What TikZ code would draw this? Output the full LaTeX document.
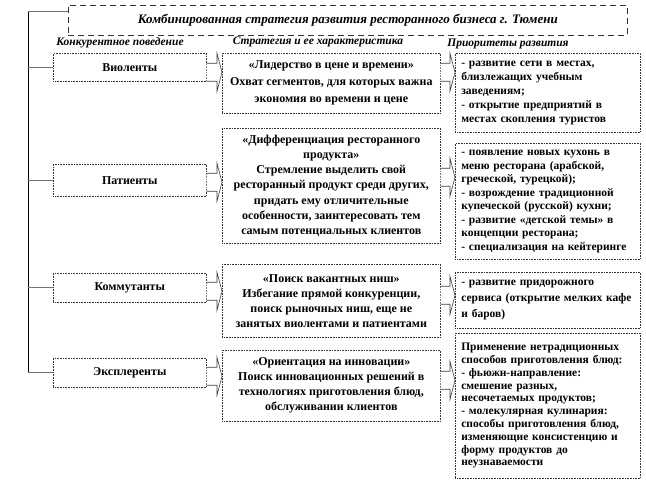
\documentclass[tikz,border=0pt]{standalone}
\usepackage{fontspec}
\setmainfont{Liberation Serif}
\usetikzlibrary{calc}
\newcommand\blockarrow[3]{%
  \draw[barrow] ($(#1.east)+(0,#3-9)$) -- ($(#2.west |- #1.east)+(-5,#3-9)$)
    -- ($(#2.west |- #1.east)+(-5,#3-19)$) -- ($(#2.west |- #1.east)+(0,#3)$)
    -- ($(#2.west |- #1.east)+(-5,#3+19)$) -- ($(#2.west |- #1.east)+(-5,#3+9)$)
    -- ($(#1.east)+(0,#3+9)$);}
\begin{document}
\begin{tikzpicture}[x=1pt,y=-1pt,
  dotbox/.style={draw=black!80, densely dotted, line width=0.6pt, fill=white,
    anchor=north west, inner sep=0pt},
  lbox/.style={dotbox, minimum width=153pt, font=\bfseries\fontsize{12}{14}\selectfont},
  mbox/.style={dotbox, minimum width=218pt, align=center},
  rbox/.style={dotbox, text width=173pt, inner xsep=6pt, align=left},
  hdr/.style={font=\bfseries\itshape\fontsize{11.5}{13}\selectfont},
  barrow/.style={draw=black!75, line width=0.6pt, fill=white},
  trunk/.style={draw=black, line width=0.8pt},
  branch/.style={draw=black!55, line width=1pt}
]
\useasboundingbox (0,0) rectangle (646,486);
\fill[white] (0,0) rectangle (646,486);

% title
\node[draw=black!80, dash pattern=on 6pt off 4pt, line width=0.7pt, anchor=north west,
  minimum width=559pt, minimum height=30pt, inner sep=0pt,
  font=\bfseries\itshape\fontsize{13}{15}\selectfont] (T) at (68,5)
  {Комбинированная стратегия развития ресторанного бизнеса г. Тюмени};

% headers
\node[hdr] (H1) at (120,43) {Конкурентное поведение};
\node[hdr] (H2) at (318,42) {Стратегия и ее характеристика};
\node[hdr] (H3) at (508,44) {Приоритеты развития};

% left boxes
\node[lbox, minimum height=28pt] (L1) at (53,53) {Виоленты};
\node[lbox, minimum height=32pt] (L2) at (53,164) {Патиенты};
\node[lbox, minimum height=29pt] (L3) at (53,273) {Коммутанты};
\node[lbox, minimum height=29pt] (L4) at (53,358) {Эксплеренты};

% right boxes
\node[rbox, minimum height=79pt, font=\bfseries\fontsize{11.5}{14}\selectfont] (R1) at (455,53)
  {- развитие сети в местах,\\ близлежащих учебным\\ заведениям;\\ - открытие предприятий в\\ местах скопления туристов};
\node[rbox, minimum height=116pt, font=\bfseries\fontsize{11.5}{13.5}\selectfont] (R2) at (455,143)
  {- появление новых кухонь в\\ меню ресторана (арабской,\\ греческой, турецкой);\\ - возрождение традиционной\\ купеческой (русской) кухни;\\ - развитие «детской темы» в\\ концепции ресторана;\\ - специализация на кейтеринге};
\node[rbox, minimum height=56pt, font=\bfseries\fontsize{11.5}{16}\selectfont] (R3) at (455,272)
  {- развитие придорожного\\ сервиса (открытие мелких кафе\\ и баров)};
\node[rbox, minimum height=145pt, font=\bfseries\fontsize{11.5}{12.8}\selectfont] (R4) at (455,333)
  {Применение нетрадиционных\\ способов приготовления блюд:\\ - фьюжн-направление:\\ смешение разных,\\ несочетаемых продуктов;\\ - молекулярная кулинария:\\ способы приготовления блюд,\\ изменяющие консистенцию и\\ форму продуктов до\\ неузнаваемости};

% middle boxes
\node[mbox, minimum height=60pt, font=\bfseries\fontsize{12}{17}\selectfont] (M1) at (222,53)
  {«Лидерство в цене и времени»\\ Охват сегментов, для которых важна\\ экономия во времени и цене};
\node[mbox, minimum height=115pt, font=\bfseries\fontsize{12}{15.3}\selectfont] (M2) at (222,128)
  {«Дифференциация ресторанного\\ продукта»\\ Стремление выделить свой\\ ресторанный продукт среди других,\\ придать ему отличительные\\ особенности, заинтересовать тем\\ самым потенциальных клиентов};
\node[mbox, minimum height=73pt, font=\bfseries\fontsize{12}{15}\selectfont] (M3) at (222,264)
  {«Поиск вакантных ниш»\\ Избегание прямой конкуренции,\\ поиск рыночных ниш, еще не\\ занятых виолентами и патиентами};
\node[mbox, minimum height=71pt, font=\bfseries\fontsize{12}{15}\selectfont] (M4) at (222,350)
  {«Ориентация на инновации»\\ Поиск инновационных решений в\\ технологиях приготовления блюд,\\ обслуживании клиентов};

% block arrows: left -> middle
\blockarrow{L1}{M1}{5}
\blockarrow{L2}{M2}{2}
\blockarrow{L3}{M3}{3.5}
\blockarrow{L4}{M4}{3.5}
% block arrows: middle -> right
\blockarrow{M1}{R1}{-11}
\blockarrow{M2}{R2}{-8.5}
\blockarrow{M3}{R3}{-5.5}
\blockarrow{M4}{R4}{-5.5}

% trunk line on the left
\coordinate (vx) at (28,12);
\draw[branch] ($(T.north west)+(0,7)$) -- (vx);
\draw[trunk] (vx) -- (vx |- L4.west);
\draw[branch] (L1.west) -- (L1.west -| vx);
\draw[branch] (L2.west) -- (L2.west -| vx);
\draw[branch] (L3.west) -- (L3.west -| vx);
\draw[branch] (L4.west) -- (L4.west -| vx);
\end{tikzpicture}
\end{document}
